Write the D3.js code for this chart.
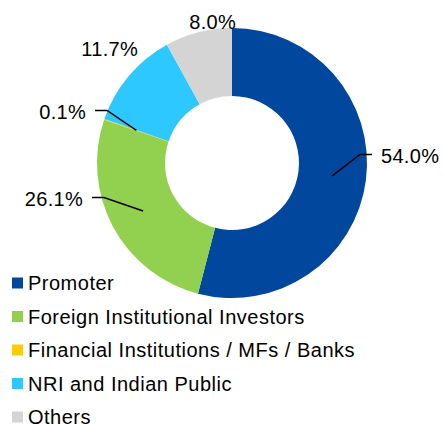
<!DOCTYPE html>
<html>
<head>
    <meta charset="utf-8">
    <script src="https://cdn.jsdelivr.net/npm/d3@7/dist/d3.min.js"></script>
    <style>
        body { margin: 0; background: #fff; }
        text { font-family: "Liberation Sans", Arial, sans-serif; fill: #000; }
    </style>
</head>
<body>
    <svg width="444" height="425" id="mainsvg"></svg>
    <script>
        // shareholding pattern
        const categories = ['Promoter', 'Foreign Institutional Investors', 'Financial Institutions / MFs / Banks', 'NRI and Indian Public', 'Others'];
        const shares = [54.0, 26.1, 0.1, 11.7, 8.0];
        const labels = ['54.0%', '26.1%', '0.1%', '11.7%', '8.0%'];
        const colors = ['#00479D', '#92D050', '#FFCC00', '#2DC8FF', '#D4D4D4'];

        // label placement relative to pie centre: [dx, dy, anchor, leader]
        const labelLayout = [
            [149, 0, 'start', true],
            [-149, 43, 'end', true],
            [-146, -44, 'end', true],
            [-94, -107, 'end', false],
            [4, -134, 'end', false]
        ];

        const svg = d3.select('svg');
        const cx = 232, cy = 163;
        const outerR = 135, innerR = 67;

        const g = svg.append('g').attr('transform', `translate(${cx},${cy})`);

        const pie = d3.pie().sort(null).value(d => d);
        const arcs = pie(shares);
        const arc = d3.arc().innerRadius(innerR).outerRadius(outerR);

        g.selectAll('path.slice').data(arcs).join('path')
            .attr('class', 'slice')
            .attr('fill', (d, i) => colors[i])
            .attr('d', arc);

        // leader lines
        g.selectAll('polyline').data(arcs.filter((d, i) => labelLayout[i][3])).join('polyline')
            .attr('fill', 'none').attr('stroke', '#000').attr('stroke-width', 1.5)
            .attr('points', d => {
                const [lx, ly, anchor] = labelLayout[d.index];
                const c = arc.centroid(d);
                const dir = anchor === 'start' ? 1 : -1;
                const yLine = ly - 8.5;
                const end = [lx - dir * 9, yLine];
                const elbow = [end[0] - dir * 12, yLine];
                return [c, elbow, end].map(p => p.join(',')).join(' ');
            });

        g.selectAll('text.lbl').data(arcs).join('text')
            .attr('class', 'lbl')
            .attr('x', d => labelLayout[d.index][0])
            .attr('y', d => labelLayout[d.index][1])
            .attr('text-anchor', d => labelLayout[d.index][2])
            .attr('font-size', '20px')
            .attr('letter-spacing', '0.3px')
            .text((d, i) => labels[i]);

        // legend
        const legendY = d3.scalePoint().domain(categories).range([283, 417]);
        const legend = svg.append('g');
        const items = legend.selectAll('g').data(categories).join('g')
            .attr('transform', d => `translate(12,${legendY(d)})`);
        items.append('rect')
            .attr('x', 0).attr('y', -5.5).attr('width', 11).attr('height', 11)
            .attr('fill', (d, i) => colors[i]);
        items.append('text')
            .attr('x', 16).attr('y', 7)
            .attr('font-size', '20px')
            .attr('letter-spacing', '0.5px')
            .text(d => d);
    </script>
</body>
</html>
